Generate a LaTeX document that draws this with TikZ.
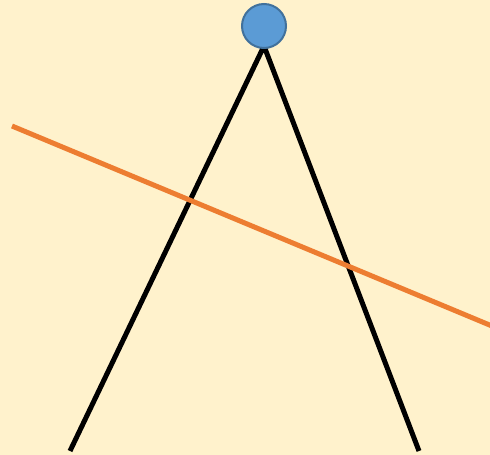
\documentclass[tikz,border=0pt]{standalone}
\definecolor{bg}{HTML}{FFF2CC}
\definecolor{ballfill}{HTML}{5B9BD5}
\definecolor{balledge}{HTML}{41719C}
\definecolor{ray}{HTML}{ED7D31}
\begin{document}
\begin{tikzpicture}[x=1pt,y=-1pt,
  leg/.style={line width=5pt,black},
  mirror/.style={line width=5pt,ray},
  ball/.style={circle,fill=ballfill,draw=balledge,line width=2pt,minimum size=44pt,inner sep=0pt}]
\fill[bg] (0,0) rectangle (490,455);
\useasboundingbox (0,0) rectangle (490,455);
\coordinate (apex) at (264,46);
\coordinate (lend) at (70,451);
\coordinate (rend) at (419,451);
\coordinate (ostart) at (12,126);
\coordinate (oend) at (492,326);
\draw[leg] (lend) -- (apex) -- (rend);
\draw[mirror] (ostart) -- (oend);
\node[ball] (b) at (264,26) {};
\end{tikzpicture}
\end{document}
